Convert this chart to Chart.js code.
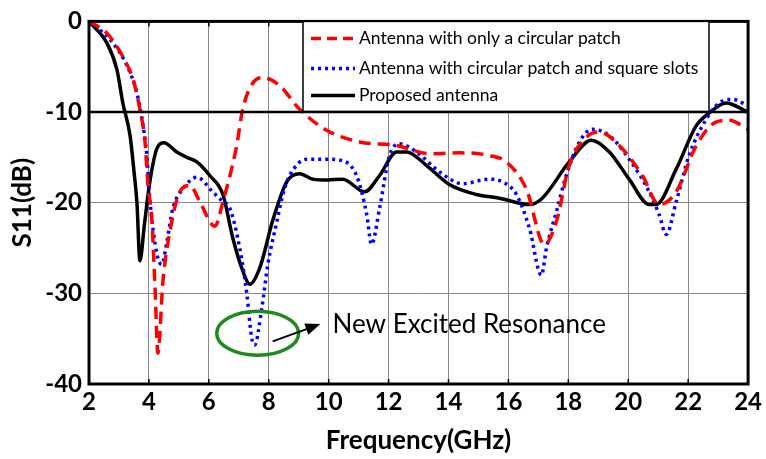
<!DOCTYPE html>
<html><head><meta charset="utf-8">
<script src="https://cdn.jsdelivr.net/npm/chart.js@4"></script>
<style>html,body{margin:0;padding:0;background:#fff}#wrap{width:766px;height:459px}</style>
</head><body><div id="wrap"><canvas id="c" width="766" height="459"></canvas></div>
<script>
const xTicks = [2,4,6,8,10,12,14,16,18,20,22,24];
const yTicks = [-40,-30,-20,-10,0];
const seriesNames = ["Antenna with only a circular patch","Antenna with circular patch and square slots","Proposed antenna"];

const redFreq = [2,2.6,3.13,3.47,3.7,3.87,3.97,4.1,4.2,4.3,4.47,4.7,5.03,5.37,5.7,6.2,6.47,6.93,7.13,7.47,7.8,8.37,9.03,9.93,11.03,12.27,13.37,14.37,15.37,15.93,16.6,17.2,17.6,18.03,18.6,19.03,19.7,20.47,21.03,21.6,22.27,22.93,23.37,24];
const redS11  = [0,-1.3,-3.9,-6.4,-9.7,-13.3,-18.1,-22,-29,-36.6,-28.6,-23.2,-18.8,-18.1,-19.9,-22.6,-19.9,-13.7,-9.7,-6.8,-6.2,-7.1,-9.7,-12,-13.3,-13.7,-14.6,-14.5,-14.8,-15.5,-18.5,-24.6,-22.1,-15.9,-12.8,-12.2,-13.7,-17,-20.2,-18.8,-13.7,-11.1,-10.9,-11.9];

const blueFreq = [2,2.7,3.27,3.6,3.77,3.93,4.03,4.27,4.43,4.6,4.8,5.13,5.6,6.13,6.47,6.7,7.03,7.27,7.43,7.53,7.77,7.97,8.27,8.47,8.7,9.27,9.93,10.37,10.93,11.27,11.43,11.7,12.03,12.37,12.93,13.7,14.47,15.37,15.8,16.27,16.7,17.1,17.27,17.6,17.93,18.37,18.8,19.37,20.03,20.7,21.03,21.27,21.6,22.03,22.6,23.03,23.47,24];
const blueS11  = [0,-2,-4.9,-7.9,-10.8,-14.8,-19.6,-25.7,-26.8,-24.3,-20.6,-18.5,-17.2,-18.8,-19.9,-20.6,-25,-30.1,-34.9,-35.7,-31.6,-26.8,-22.1,-19.1,-17,-15.2,-15.2,-15.3,-17,-21.3,-24.6,-20.6,-14.8,-13.5,-14.4,-16.6,-17.9,-17.4,-17.7,-19.1,-22.8,-28,-25,-21,-17,-13.3,-11.9,-12.6,-15.2,-18.8,-21.3,-23.5,-19.9,-14.8,-10.8,-9,-8.6,-9.3];

const blackFreq = [2,2.6,2.93,3.13,3.37,3.5,3.6,3.7,3.85,4.03,4.27,4.5,4.93,5.27,5.6,6.03,6.47,6.8,7.13,7.37,7.7,8.13,8.6,9.03,9.47,9.97,10.47,11.2,11.7,12.27,12.6,13.27,14.03,14.93,15.7,16.7,17.13,18.03,18.77,19.37,20.03,20.7,20.93,21.6,22.27,22.7,23.27,23.93,24];
const blackS11  = [0,-2.4,-5.3,-9,-12.6,-16.5,-20,-26.4,-22.4,-17.7,-14,-13.4,-14.4,-15,-15.5,-17,-19.1,-23.9,-27.5,-29,-27.2,-22,-17.7,-16.8,-17.4,-17.5,-17.4,-18.8,-17,-14.4,-14.4,-15.9,-18,-19.1,-19.5,-20.2,-19.5,-15.5,-13.1,-14.4,-17.4,-20.2,-20.2,-16.3,-11.5,-10.1,-9,-9.9,-10];

const annotationText = "New Excited Resonance";

function pts(xs, ys){ return xs.map((x,i)=>({x:x,y:ys[i]})); }

const FONT = "Lato, 'Open Sans', sans-serif";

const frame = {
  id:'frame',
  afterDatasetsDraw(chart){
    const {ctx, chartArea:a, scales:{x,y}} = chart;
    ctx.save();
    ctx.strokeStyle='#000'; ctx.lineWidth=2.5;
    ctx.beginPath(); ctx.moveTo(a.left, y.getPixelForValue(-10)); ctx.lineTo(a.right, y.getPixelForValue(-10)); ctx.stroke();
    ctx.lineWidth=3;
    ctx.strokeRect(a.left, a.top, a.right-a.left, a.bottom-a.top);
    ctx.lineWidth=1.5;
    xTicks.forEach(v=>{const px=x.getPixelForValue(v);
      ctx.beginPath(); ctx.moveTo(px,a.top); ctx.lineTo(px,a.top+5); ctx.stroke();
      ctx.beginPath(); ctx.moveTo(px,a.bottom); ctx.lineTo(px,a.bottom-5); ctx.stroke();});
    const cx=x.getPixelForValue(7.63), cy=y.getPixelForValue(-34.4);
    ctx.strokeStyle='#1e8a1e'; ctx.lineWidth=3.5;
    ctx.beginPath(); ctx.ellipse(cx,cy,41,22,0,0,Math.PI*2); ctx.stroke();
    const x1=x.getPixelForValue(8.13), y1=y.getPixelForValue(-35.3);
    const x2=x.getPixelForValue(9.63), y2=y.getPixelForValue(-33.5);
    ctx.strokeStyle='#000'; ctx.fillStyle='#000'; ctx.lineWidth=2;
    ctx.beginPath(); ctx.moveTo(x1,y1); ctx.lineTo(x2,y2); ctx.stroke();
    const ang=Math.atan2(y2-y1,x2-x1);
    ctx.beginPath(); ctx.moveTo(x2+3*Math.cos(ang),y2+3*Math.sin(ang));
    ctx.lineTo(x2-12*Math.cos(ang)+6*Math.sin(ang), y2-12*Math.sin(ang)-6*Math.cos(ang));
    ctx.lineTo(x2-12*Math.cos(ang)-6*Math.sin(ang), y2-12*Math.sin(ang)+6*Math.cos(ang));
    ctx.closePath(); ctx.fill();
    ctx.font = "26px "+FONT; ctx.textBaseline='middle'; ctx.textAlign='left';
    ctx.fillText(annotationText, x.getPixelForValue(10.13), y.getPixelForValue(-33.4));
    const lx=303, ly=a.top, lw=406, lh=90;
    ctx.fillStyle='#fff'; ctx.fillRect(lx,ly,lw,lh);
    ctx.strokeStyle='#000'; ctx.lineWidth=1.5; ctx.strokeRect(lx,ly,lw,lh);
    const rows=[ly+17, ly+47, ly+74];
    const styles=[{c:'#ff0000',d:[10,6],w:3.5},{c:'#0000ff',d:[3,4],w:3.5},{c:'#000',d:[],w:3.5}];
    ctx.font="17.5px "+FONT; ctx.fillStyle='#000';
    for(let i=0;i<3;i++){
      ctx.strokeStyle=styles[i].c; ctx.lineWidth=styles[i].w; ctx.setLineDash(styles[i].d);
      ctx.beginPath(); ctx.moveTo(lx+8,rows[i]); ctx.lineTo(lx+52,rows[i]); ctx.stroke();
      ctx.setLineDash([]);
      ctx.fillText(seriesNames[i], lx+56, rows[i]);
    }
    ctx.restore();
  }
};

new Chart(document.getElementById('c'), {
  type:'line',
  data:{datasets:[
    {label:seriesNames[0], data:pts(redFreq,redS11), borderColor:'#ff0000', borderWidth:3.5, borderDash:[12,7], pointRadius:0, cubicInterpolationMode:'monotone', fill:false},
    {label:seriesNames[1], data:pts(blueFreq,blueS11), borderColor:'#0000ff', borderWidth:3.5, borderDash:[3,4], pointRadius:0, cubicInterpolationMode:'monotone', fill:false},
    {label:seriesNames[2], data:pts(blackFreq,blackS11), borderColor:'#000', borderWidth:3.5, pointRadius:0, cubicInterpolationMode:'monotone', fill:false}
  ]},
  options:{
    responsive:false, animation:false,
    layout:{padding:{top:18,right:17,left:0,bottom:0}},
    plugins:{legend:{display:false}, tooltip:{enabled:false}},
    scales:{
      x:{type:'linear', min:2, max:24,
         afterBuildTicks(s){ s.ticks = xTicks.map(v=>({value:v})); },
         afterFit(s){ s.height = 75; },
         grid:{color:'#888', lineWidth:1, drawTicks:false},
         border:{display:false},
         ticks:{color:'#000', font:{family:FONT, size:24, weight:'bold'}, padding:4, maxRotation:0},
         title:{display:true, text:'Frequency(GHz)', color:'#000', font:{family:FONT, size:26, weight:'bold'}, padding:{top:3,bottom:3}}
      },
      y:{min:-40, max:0,
         afterBuildTicks(s){ s.ticks = yTicks.map(v=>({value:v})); },
         afterFit(s){ s.width = 89; },
         grid:{color:'#888', lineWidth:1, drawTicks:false},
         border:{display:false},
         ticks:{color:'#000', font:{family:FONT, size:24, weight:'bold'}, padding:7},
         title:{display:true, text:'S11(dB)', color:'#000', font:{family:FONT, size:26, weight:'bold'}, padding:{top:7,bottom:7}}
      }
    }
  },
  plugins:[frame]
});
</script></body></html>
